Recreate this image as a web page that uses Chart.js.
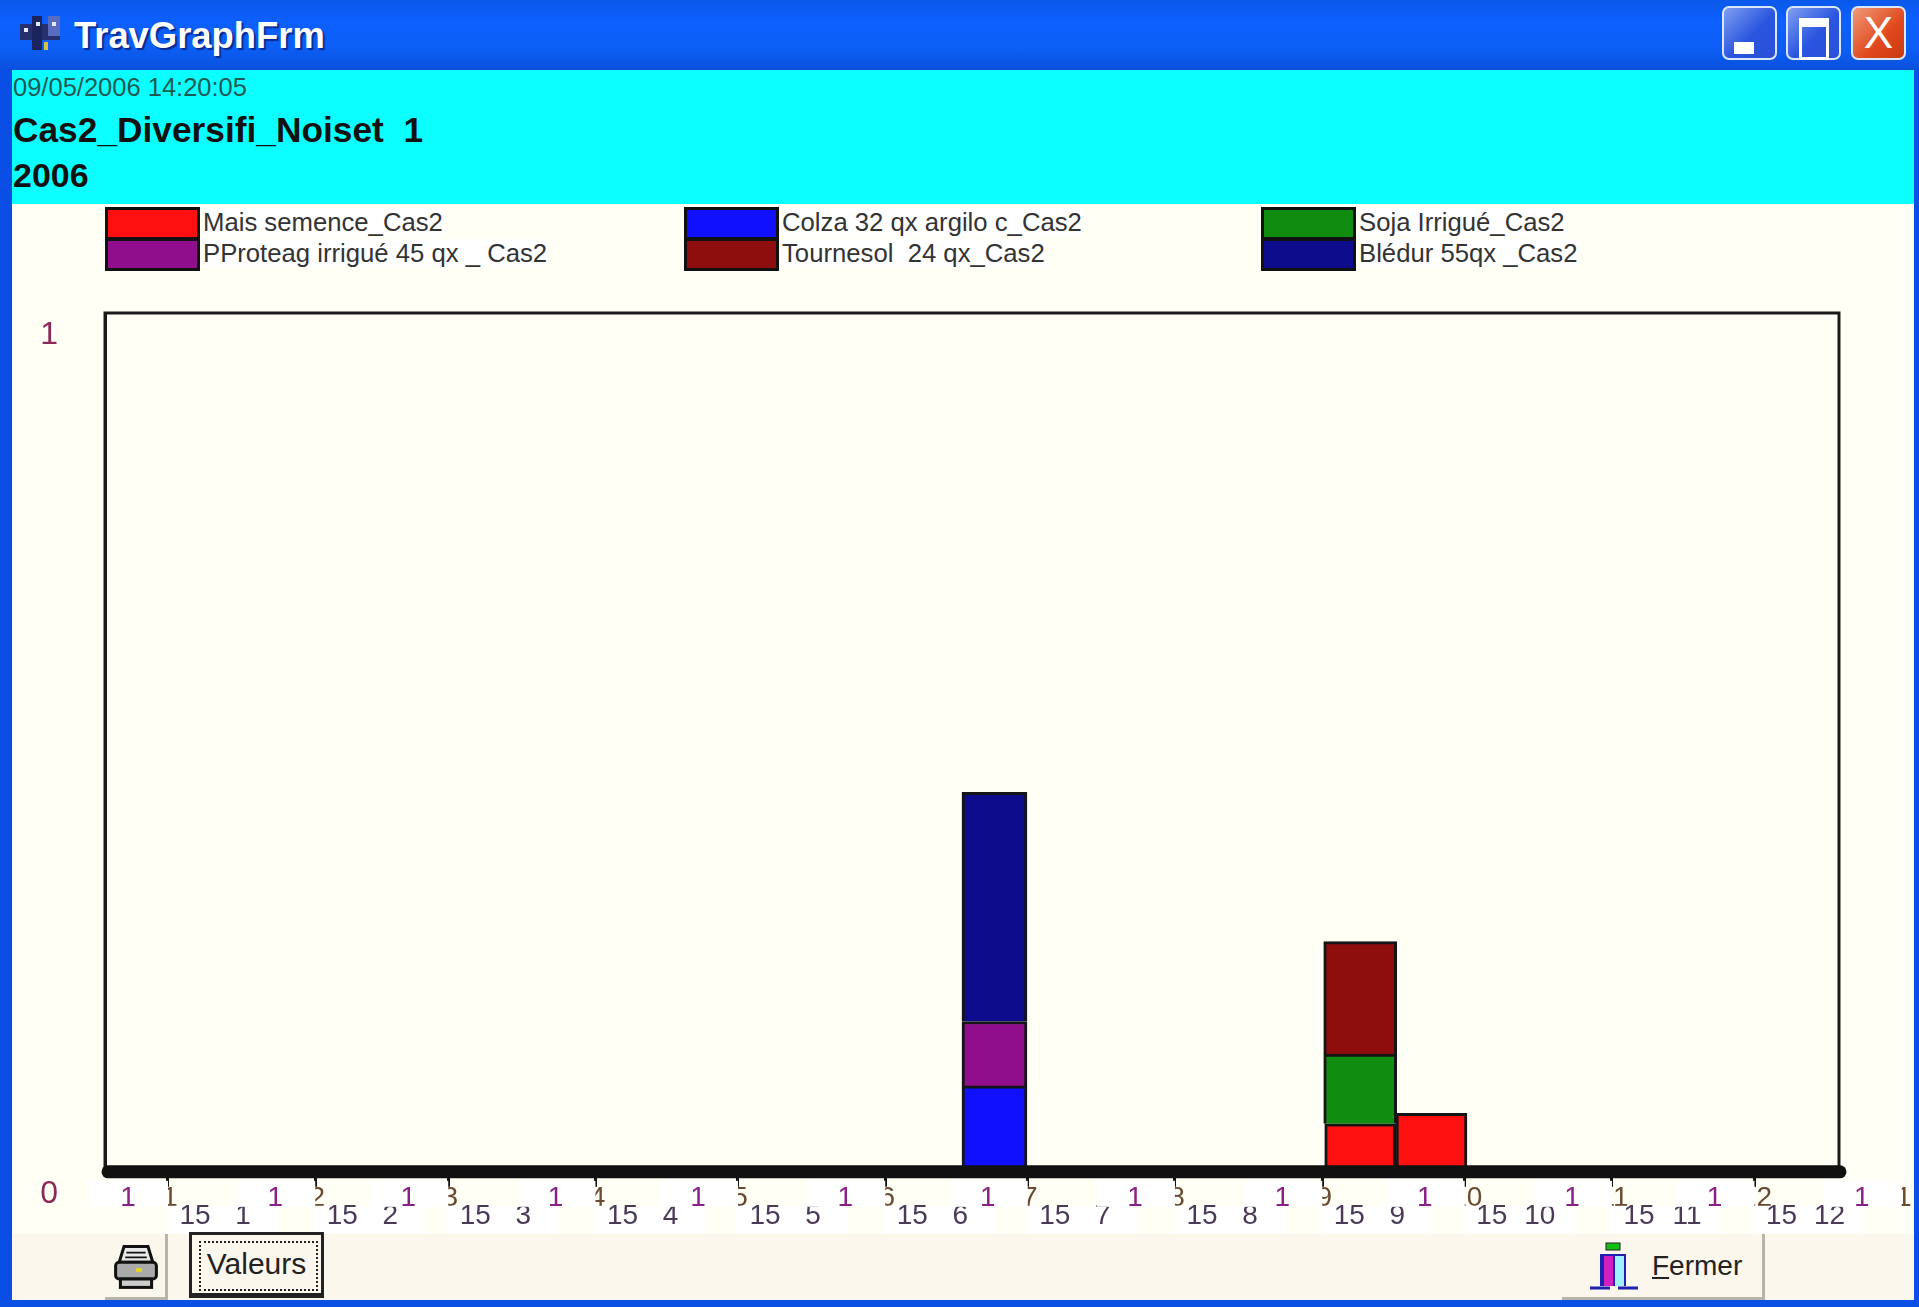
<!DOCTYPE html>
<html>
<head>
<meta charset="utf-8">
<title>TravGraphFrm</title>
<script src="https://cdn.jsdelivr.net/npm/chart.js@4"></script>
<style>
html, body { margin: 0; padding: 0; background: #0a4fe0; }
body { width: 1919px; height: 1307px; position: relative; overflow: hidden; font-family: "Liberation Sans", Arial, sans-serif; filter: blur(0.6px); }
div, canvas, svg { position: absolute; }
#titlebar { left: 0; top: 0; width: 1919px; height: 70px; background: linear-gradient(#0a58ea, #0d60ff 30%, #0c5ef4 70%, #0a50dc); }
#titletext { left: 74px; top: 14px; color: #fff; font-size: 36.4px; font-weight: bold; line-height: 44px; text-shadow: 2px 2px 1px #0a2a90; }
.winbtn { top: 6px; width: 55px; height: 54px; border: 2px solid #dbe6ff; border-radius: 7px; box-sizing: border-box; background: linear-gradient(135deg, #7f9ff0, #2a55e0 55%, #2a50d8); }
.winbtn.close { background: linear-gradient(135deg, #f09a78, #e0481c 60%, #c83a12); color: #fff; font-size: 44px; line-height: 50px; text-align: center; }
#left { left: 0; top: 70px; width: 12px; height: 1237px; background: #0a4ee6; }
#right { left: 1914px; top: 70px; width: 5px; height: 1237px; background: #0a4ee6; }
#bottom { left: 0; top: 1300px; width: 1919px; height: 7px; background: #0a50e4; }
#head { left: 12px; top: 70px; width: 1902px; height: 134px; background: #0cffff; }
.head { left: 1px; white-space: pre; color: #111; }
#stamp { top: 3px; font-size: 25.5px; line-height: 28px; color: #1d5a55; }
#name { top: 40px; font-size: 35.3px; font-weight: bold; line-height: 40px; }
#year { top: 85px; font-size: 34px; font-weight: bold; line-height: 40px; }
#plotbg { left: 12px; top: 204px; width: 1902px; height: 1030px; background: #fffff6; }
#strip { left: 12px; top: 1234px; width: 1902px; height: 66px; background: #fbf7ec; }
.swatch { width: 95px; height: 33px; border: 3px solid #111; box-sizing: border-box; }
.legtext { font-size: 25.7px; line-height: 28px; color: #333; white-space: pre; background: #fff; }
.btn { background: #fbf7ec; border-right: 3px solid #b8b4a8; border-bottom: 3px solid #b8b4a8; box-sizing: border-box; color: #222; }
#valeurs { left: 189px; top: 1232px; width: 135px; height: 66px; border: 3px solid #222; border-bottom-width: 5px; font-size: 30px; line-height: 58px; text-align: center; }
#focus { left: 7px; top: 6px; width: 115px; height: 46px; border: 2px dotted #222; }
#fermer { left: 1562px; top: 1234px; width: 203px; height: 66px; font-size: 28px; line-height: 64px; padding-left: 90px; }
#print { left: 105px; top: 1234px; width: 63px; height: 66px; }
</style>
</head>
<body>
<div id="titlebar"></div>
<svg style="left:18px;top:14px" width="46" height="38" viewBox="0 0 46 38">
  <rect x="2" y="10" width="40" height="16" fill="#26306e"/>
  <rect x="14" y="2" width="10" height="34" fill="#1c2460"/>
  <rect x="30" y="2" width="12" height="20" fill="#5a6cc0"/>
  <rect x="6" y="14" width="4" height="4" fill="#e8e8ff"/>
  <rect x="18" y="8" width="4" height="4" fill="#e8e8ff"/>
  <rect x="34" y="8" width="4" height="4" fill="#e8e8ff"/>
  <rect x="26" y="28" width="4" height="8" fill="#d8c040"/>
</svg>
<div id="titletext">TravGraphFrm</div>
<div class="winbtn" style="left:1722px"><div style="left:10px;top:34px;width:20px;height:12px;background:#fff"></div></div>
<div class="winbtn" style="left:1786px"><div style="left:11px;top:10px;width:24px;height:30px;border:3px solid #fff;border-top-width:9px"></div></div>
<div class="winbtn close" style="left:1851px">X</div>
<div id="left"></div><div id="right"></div><div id="bottom"></div>
<div id="head">
  <div class="head" id="stamp">09/05/2006 14:20:05</div>
  <div class="head" id="name">Cas2_Diversifi_Noiset  1</div>
  <div class="head" id="year">2006</div>
</div>
<div id="plotbg"></div>
<div id="legend"></div>
<canvas id="travChart" style="left:0;top:205px" width="1919" height="1033"></canvas>
<div id="strip"></div>
<div class="btn" id="print">
  <svg style="left:7px;top:9px" width="48" height="48" viewBox="0 0 40 40">
    <path d="M10 3 L30 3 L34 16 L6 16 Z" fill="#e8e8e8" stroke="#111" stroke-width="2.5"/>
    <path d="M12 8 H28 M11 12 H29" stroke="#111" stroke-width="1.5"/>
    <rect x="3" y="16" width="34" height="14" rx="3" fill="#aaa" stroke="#111" stroke-width="2.5"/>
    <rect x="7" y="30" width="26" height="7" fill="#ccc" stroke="#111" stroke-width="2.5"/>
    <rect x="20" y="21" width="5" height="3" fill="#e8d820"/>
  </svg>
</div>
<div class="btn" id="valeurs">Valeurs<div id="focus"></div></div>
<div class="btn" id="fermer"><u>F</u>ermer
  <svg style="left:26px;top:8px" width="52" height="52" viewBox="0 0 52 52">
    <rect x="18" y="1" width="14" height="7" fill="#10c010" stroke="#222"/>
    <rect x="12" y="12" width="26" height="32" fill="#2020b0"/>
    <rect x="16" y="14" width="9" height="30" fill="#d020c0"/>
    <rect x="27" y="14" width="9" height="30" fill="#a0f0ff"/>
    <path d="M2 46 H22 M30 46 H50" stroke="#2020b0" stroke-width="3"/>
  </svg>
</div>
<script>
// day of year at the start of each month, the last one is january of next year
const monthStarts = [0, 31, 59, 90, 120, 151, 181, 212, 243, 273, 304, 334, 365];
const monthLabels = ['1', '2', '3', '4', '5', '6', '7', '8', '9', '10', '11', '12', '1'];

// half-month periods that have work in them (mid day of year)
const periods = [174, 251, 266];

const seriesNames = ['Mais semence_Cas2', 'Colza 32 qx argilo c_Cas2', 'Soja Irrigué_Cas2', 'PProteag irrigué 45 qx _ Cas2', 'Tournesol  24 qx_Cas2', 'Blédur 55qx _Cas2'];
const maisValues = [null, 0.056, 0.068];
const colzaValues = [0.100, null, null];
const sojaValues = [null, 0.081, null];
const proteagValues = [0.075, null, null];
const tournesolValues = [null, 0.131, null];
const bledurValues = [0.267, null, null];

const seriesValues = [maisValues, colzaValues, sojaValues, proteagValues, tournesolValues, bledurValues];
const seriesColors = ['#ff1010', '#1010ff', '#108c10', '#900e8c', '#8e0e0e', '#0c0c8c'];
const seriesWidths = [71, 65, 73, 65, 73, 65];

const legendCols = [105, 684, 1261];
const legendRows = [207, 238];

// legend is laid out in three columns, two rows
const legendBox = document.getElementById('legend');
seriesNames.forEach(function (name, i) {
    const x = legendCols[i % 3];
    const y = legendRows[Math.floor(i / 3)];
    const sw = document.createElement('div');
    sw.className = 'swatch';
    sw.style.cssText = `left:${x}px;top:${y}px;background:${seriesColors[i]}`;
    legendBox.appendChild(sw);
    const tx = document.createElement('div');
    tx.className = 'legtext';
    tx.textContent = name;
    tx.style.cssText = `left:${x + 98}px;top:${y + 1}px`;
    legendBox.appendChild(tx);
});

// the frame, the thick base line and the odd two-row month labels of the original form
const formPlugin = {
    id: 'formPlugin',
    beforeDatasetsDraw(chart) {
        const a = chart.chartArea, c = chart.ctx;
        c.save();
        c.strokeStyle = '#1a1a1a';
        c.lineWidth = 3;
        c.strokeRect(a.left, a.top, a.right - a.left, a.bottom - a.top);
        c.restore();
    },
    afterDatasetsDraw(chart) {
        const a = chart.chartArea, c = chart.ctx;
        c.save();
        c.strokeStyle = '#111';
        c.lineWidth = 13;
        c.lineCap = 'round';
        c.beginPath();
        c.moveTo(a.left + 3, a.bottom);
        c.lineTo(a.right + 1, a.bottom);
        c.stroke();
        c.restore();
    },
    afterDraw(chart) {
        const c = chart.ctx, x = chart.scales.x;
        const top = chart.chartArea.bottom;
        c.save();
        c.font = '28px "Liberation Sans"';
        c.textAlign = 'center';
        c.textBaseline = 'middle';
        monthStarts.forEach(function (day, i) {
            const px = x.getPixelForValue(day);
            c.fillStyle = '#6a4a30';
            c.fillText(monthLabels[i], px + 2, top + 26);
            // "1" label paints a white box over whatever is on its left
            c.fillStyle = '#fff';
            c.fillRect(px - 78, top + 9, 78, 26);
            c.fillStyle = '#8a1f86';
            c.fillText('1', px - 40, top + 26);
            if (i < 12) {
                c.fillStyle = '#fff';
                c.fillRect(px - 2, top + 34, 112, 28);
                c.fillStyle = '#4a3a58';
                c.fillText('15', px + 27, top + 44);
                c.fillText(monthLabels[i], px + 75, top + 44);
            }
        });
        c.restore();
    }
};

const datasets = seriesNames.map(function (name, i) {
    return {
        label: name,
        data: periods.map((p, j) => ({ x: p, y: seriesValues[i][j] })).filter(d => d.y !== null),
        backgroundColor: seriesColors[i],
        borderColor: '#151515',
        borderWidth: 3,
        barThickness: seriesWidths[i]
    };
});

new Chart(document.getElementById('travChart'), {
    type: 'bar',
    data: { datasets: datasets },
    plugins: [formPlugin],
    options: {
        responsive: false,
        animation: false,
        layout: { padding: { top: 108, right: 80, left: 0, bottom: 0 } },
        plugins: { legend: { display: false }, tooltip: { enabled: false } },
        scales: {
            x: {
                type: 'linear',
                stacked: true,
                offset: false,
                min: -13.26,
                max: 351.8,
                afterBuildTicks(scale) {
                    scale.ticks = monthStarts.slice(0, 12).map(v => ({ value: v }));
                },
                afterFit(scale) { scale.height = 62; },
                grid: { offset: false, drawOnChartArea: false, color: '#111', lineWidth: 3, tickLength: 15 },
                border: { display: false },
                ticks: { autoSkip: false, maxRotation: 0, callback: () => '' }
            },
            y: {
                stacked: true,
                min: 0,
                max: 1,
                afterFit(scale) { scale.width = 105; },
                grid: { display: true, drawOnChartArea: false, drawTicks: false },
                border: { color: '#1a1a1a', width: 3 },
                ticks: {
                    stepSize: 1,
                    padding: 47,
                    labelOffset: 22,
                    color: '#8a2a5a',
                    font: { size: 32, family: '"Liberation Sans"' }
                }
            }
        }
    }
});
</script>
</body>
</html>
